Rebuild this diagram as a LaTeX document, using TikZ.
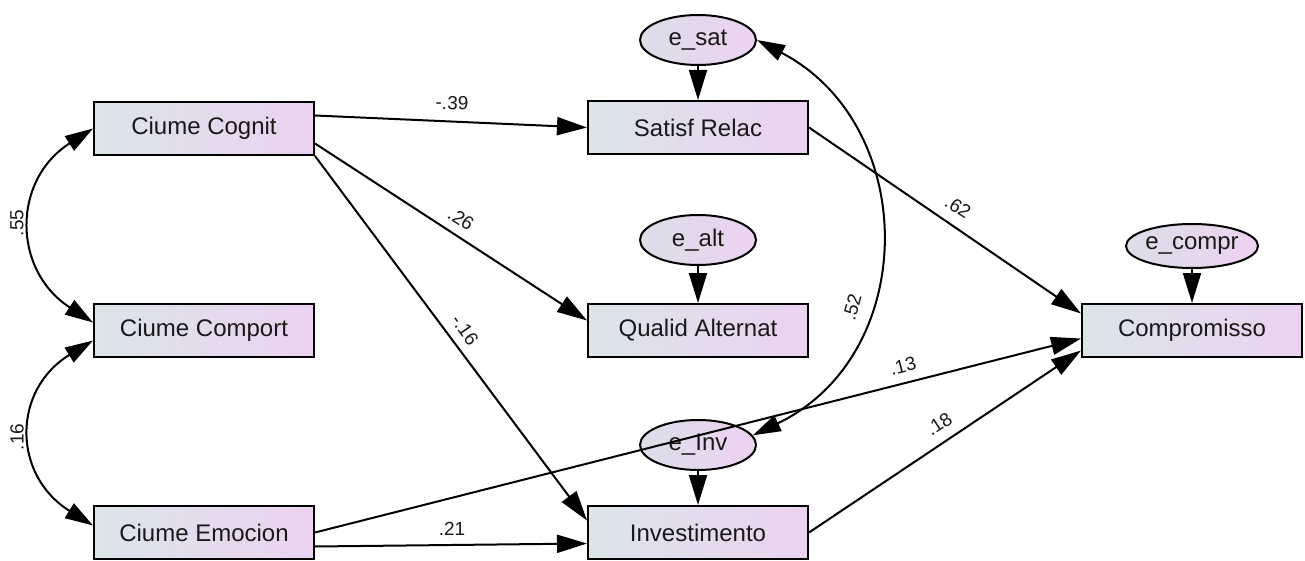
\documentclass[tikz,border=0pt]{standalone}
\usepackage{fontspec}
\setmainfont{Liberation Sans}
\usetikzlibrary{arrows.meta,shapes.geometric}
\definecolor{boxL}{RGB}{220,229,232}
\definecolor{boxR}{RGB}{235,210,241}
\definecolor{ellL}{RGB}{220,222,232}
\definecolor{ellR}{RGB}{237,210,241}
\definecolor{txt}{RGB}{25,25,25}
\tikzset{
  obs/.style={draw=black, line width=2pt, minimum width=220pt, minimum height=53pt,
    left color=boxL, right color=boxR, inner sep=0pt, text=txt,
    font=\fontsize{24}{28}\selectfont},
  err/.style={ellipse, draw=black, line width=2pt, minimum width=116pt, minimum height=50pt,
    left color=ellL, right color=ellR, inner sep=0pt, text=txt,
    font=\fontsize{24}{28}\selectfont},
  arr/.style={line width=2pt, -{Triangle[length=30pt,width=18pt]}},
  dbl/.style={line width=2pt, {Triangle[length=28pt,width=17pt]}-{Triangle[length=28pt,width=17pt]}},
  lbl/.style={inner sep=0pt, text=txt, font=\fontsize{19}{22}\selectfont}
}
\begin{document}
\begin{tikzpicture}[x=1pt,y=-1pt]
\useasboundingbox (0,0) rectangle (1305,561);
% observed variables
\node[obs] (cognit)  at (204,128.5) {Ciume Cognit};
\node[obs] (comport) at (204,330.5) {Ciume Comport};
\node[obs] (emocion) at (204,532.5) {Ciume Emocion};
\node[obs] (satisf)  at (698,127.5) {Satisf Relac};
\node[obs] (qualid)  at (698,330.5) {Qualid Alternat};
\node[obs] (invest)  at (698,532.5) {Investimento};
\node[obs] (compr)   at (1192,330.5) {Compromisso};
% error terms
\node[err] (esat)  at (698,40)  {e\_sat};
\node[err] (ealt)  at (698,240) {e\_alt};
\node[err] (einv)  at (698,445) {e\_Inv};
\node[err, minimum width=117pt, minimum height=44pt] (ecompr) at (1192,246) {e\_compr};
% regression paths
\draw[arr] ([yshift=13pt]cognit.east) -- (satisf.west);
\draw[arr] ([yshift=-15pt]cognit.east) -- ([yshift=10pt]qualid.west);
\draw[arr] (cognit.south east) -- ([yshift=12pt]invest.west);
\draw[arr] ([yshift=-14pt]emocion.east) -- ([yshift=-11pt]invest.west);
\draw[arr] (emocion.east) -- ([yshift=-8pt]compr.west);
\draw[arr] (satisf.east) -- ([yshift=17pt]compr.west);
\draw[arr] (invest.east) -- ([yshift=-20pt]compr.west);
% error paths
\draw[arr] (esat.south) -- (satisf.north);
\draw[arr] (ealt.south) -- (qualid.north);
\draw[arr] (einv.south) -- (invest.north);
\draw[arr] (ecompr.south) -- (compr.north);
% covariances
\draw[dbl] (cognit.west) .. controls (12,180) and (12,270) .. ([yshift=8pt]comport.west);
\draw[dbl] ([yshift=-10pt]comport.west) .. controls (12,390) and (12,475) .. ([yshift=7pt]emocion.west);
\draw[dbl] (esat.east) .. controls (920,125) and (920,355) .. (einv.10);
% labels
\node[lbl, rotate=-2]  (l39) at (452,103) {-.39};
\node[lbl, rotate=-33] (l26) at (461,219) {.26};
\node[lbl, rotate=-55] (l16b) at (465,330) {-.16};
\node[lbl] (l21) at (452,529) {.21};
\node[lbl, rotate=-33] (l62) at (958,207) {.62};
\node[lbl, rotate=14]  (l13) at (903,366) {.13};
\node[lbl, rotate=33]  (l18) at (939,424) {.18};
\node[lbl, rotate=75]  (l52) at (852,307) {.52};
\node[lbl, rotate=90]  (l55) at (17,223) {.55};
\node[lbl, rotate=90]  (l16) at (17,437) {.16};
\end{tikzpicture}
\end{document}
